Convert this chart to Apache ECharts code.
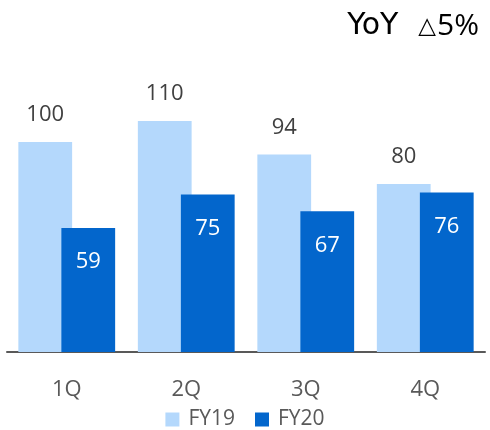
<!DOCTYPE html>
<html><head><meta charset="utf-8">
<script src="https://cdn.jsdelivr.net/npm/echarts@6/dist/echarts.min.js"></script>
<style>html,body{margin:0;padding:0;background:#fff}#c{width:490px;height:430px}</style>
</head><body><div id="c"></div>
<script>
const categories = ['1Q', '2Q', '3Q', '4Q'];
const fy19 = [100, 110, 94, 80];
const fy20 = [59, 75, 67, 76];
const seriesNames = ['FY19', 'FY20'];
const titleParts = ['YoY', '\u25B3', '5%'];

const FONT = '"Open Sans", "Noto Sans", sans-serif';
const chart = echarts.init(document.getElementById('c'), null, {renderer: 'canvas'});
chart.setOption({
  animation: false,
  title: {
    text: '{y|' + titleParts[0] + '}{t|' + titleParts[1] + '}{a|' + titleParts[2] + '}',
    right: 6, top: 6,
    textStyle: {
      fontWeight: 'normal',
      rich: {
        y: {fontFamily: '"DejaVu Sans", sans-serif', fontSize: 30, fontWeight: 'normal', color: '#000'},
        a: {fontFamily: FONT, fontSize: 30, fontWeight: 'normal', color: '#000'},
        t: {fontFamily: '"DejaVu Sans", sans-serif', fontSize: 23, fontWeight: 'normal', color: '#000', padding: [3, 1, 0, 20]}
      }
    }
  },
  legend: {
    data: seriesNames, top: 404, left: 'center',
    icon: 'rect', itemWidth: 14, itemHeight: 14, itemGap: 20,
    textStyle: {fontFamily: FONT, fontSize: 21, color: '#595959', padding: [0, 0, 0, 4]}
  },
  grid: {left: 7, right: 5, top: 100, bottom: 78},
  xAxis: {
    type: 'category', data: categories,
    axisLine: {lineStyle: {color: '#595959', width: 2}},
    axisTick: {show: false},
    axisLabel: {fontFamily: FONT, fontSize: 22, color: '#595959', margin: 27}
  },
  yAxis: {type: 'value', min: 0, max: 120, show: false, splitLine: {show: false}},
  series: [
    {
      name: seriesNames[0], type: 'bar', data: fy19,
      barWidth: '45%', barGap: '-20%',
      itemStyle: {color: '#B4D8FC'},
      label: {show: true, position: 'top', distance: 16, fontFamily: FONT, fontSize: 22, color: '#404040'}
    },
    {
      name: seriesNames[1], type: 'bar', data: fy20,
      barWidth: '45%',
      itemStyle: {color: '#0366CC'},
      label: {show: true, position: 'insideTop', distance: 23, fontFamily: FONT, fontSize: 22, color: '#fff'}
    }
  ]
});
</script></body></html>
